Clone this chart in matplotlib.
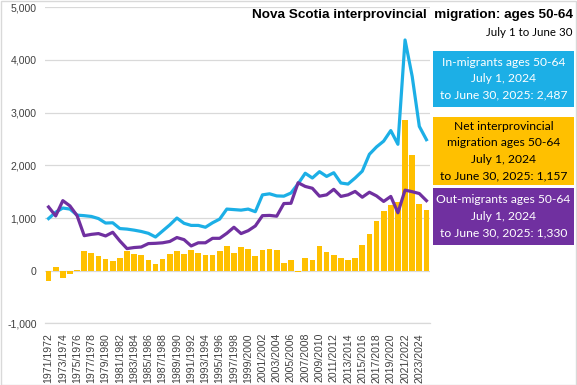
import numpy as np
import matplotlib
matplotlib.use("Agg")
import matplotlib.pyplot as plt
from matplotlib.patches import Rectangle

plt.rcParams['font.family'] = ['Liberation Sans', 'DejaVu Sans']

years = ["%d/%d" % (y, y + 1) for y in range(1971, 2025)]

in_migrants = [990, 1110, 1190, 1170, 1055, 1045, 1030, 990, 905, 910,
               800, 790, 770, 745, 710, 640, 755, 870, 1000, 900,
               860, 860, 825, 910, 980, 1170, 1160, 1150, 1170, 1120,
               1440, 1460, 1420, 1415, 1475, 1650, 1850, 1760, 1880, 1790,
               1860, 1665, 1645, 1760, 1890, 2210, 2350, 2460, 2660, 2400,
               4380, 3690, 2740, 2487]
out_migrants = [1210, 1040, 1330, 1230, 1045, 665, 690, 705, 660, 730,
                565, 420, 440, 450, 515, 520, 530, 555, 630, 590,
                470, 530, 530, 615, 615, 710, 825, 705, 760, 850,
                1045, 1050, 1035, 1275, 1280, 1670, 1600, 1565, 1415, 1440,
                1545, 1410, 1440, 1505, 1395, 1490, 1420, 1315, 1410, 1100,
                1530, 1500, 1465, 1330]
net_migration = [-200, 80, -130, -65, 5, 375, 335, 270, 215, 175,
                 235, 370, 310, 290, 195, 120, 230, 310, 370, 310,
                 385, 335, 290, 290, 365, 460, 335, 445, 405, 270,
                 390, 405, 385, 140, 195, -20, 250, 195, 465, 350,
                 290, 235, 200, 250, 485, 700, 935, 1140, 1240, 1300,
                 2860, 2190, 1260, 1157]

BLUE = "#1CAFE6"
GOLD = "#FFC000"
PURPLE = "#7030A0"
GRID = "#D9D9D9"
BOX_FONT = ['Lato', 'DejaVu Sans']

W, H = 577, 385
fig = plt.figure(figsize=(W / 100, H / 100), dpi=100)
ax = fig.add_axes([45 / W, 1 - 323.4 / H, 385 / W, (323.4 - 7.3) / H])

x = np.arange(len(years))
ax.bar(x, net_migration, width=0.8, color=GOLD, zorder=2)
ax.plot(x, in_migrants, color=BLUE, lw=2.3, zorder=3)
ax.plot(x, out_migrants, color=PURPLE, lw=2.3, zorder=4)

ax.set_xlim(-0.5, len(years) - 0.5)
ax.set_ylim(-1000, 5000)
ax.set_yticks(range(-1000, 5001, 1000))
ax.set_yticklabels(["{:,}".format(v) for v in range(-1000, 5001, 1000)], fontsize=7.6, color="#404040")
ax.set_xticks(x[::2])
ax.set_xticklabels(years[::2], rotation=90, fontsize=7.6, color="#404040")
ax.tick_params(length=0, pad=7)
ax.tick_params(axis='y', pad=6)
ax.yaxis.grid(True, color=GRID, lw=0.9, zorder=0)
for s in ['top', 'right', 'left']:
    ax.spines[s].set_visible(False)
ax.spines['bottom'].set_color(GRID)
ax.spines['bottom'].set_linewidth(0.9)
ax.set_axisbelow(True)

# title block
fig.text(573 / W, 1 - 18 / H, "Nova Scotia interprovincial  migration: ages 50-64",
         ha='right', va='baseline', fontsize=9.7, fontweight='bold')
fig.text(573 / W, 1 - 36 / H, "July 1 to June 30", ha='right', va='baseline',
         fontsize=8.3, family=BOX_FONT)


def label_box(top, bottom, color, lines, text_color):
    fig.patches.append(Rectangle((433 / W, 1 - bottom / H), 141 / W, (bottom - top) / H,
                                 transform=fig.transFigure, facecolor=color,
                                 edgecolor='none', zorder=1))
    n = len(lines)
    mid = (top + bottom) / 2
    for k, line in enumerate(lines):
        yy = mid + (k - (n - 1) / 2) * 16.3
        fig.text(503.5 / W, 1 - yy / H, line, ha='center', va='center',
                 fontsize=8.7, color=text_color, family=BOX_FONT, zorder=2)


label_box(50.7, 107.3, BLUE,
          ["In-migrants ages 50-64", "July 1, 2024", "to June 30, 2025: 2,487"], "white")
label_box(117.3, 185, GOLD,
          ["Net interprovincial", "migration ages 50-64", "July 1, 2024",
           "to June 30, 2025: 1,157"], "black")
label_box(187.5, 245, PURPLE,
          ["Out-migrants ages 50-64", "July 1, 2024", "to June 30, 2025: 1,330"], "white")

fig.patches.append(Rectangle((0.5 / W, 0.5 / H), (W - 1.5) / W, (H - 1.5) / H,
                             transform=fig.transFigure, facecolor='none',
                             edgecolor=GRID, lw=1))

fig.savefig("out.png", dpi=100)
